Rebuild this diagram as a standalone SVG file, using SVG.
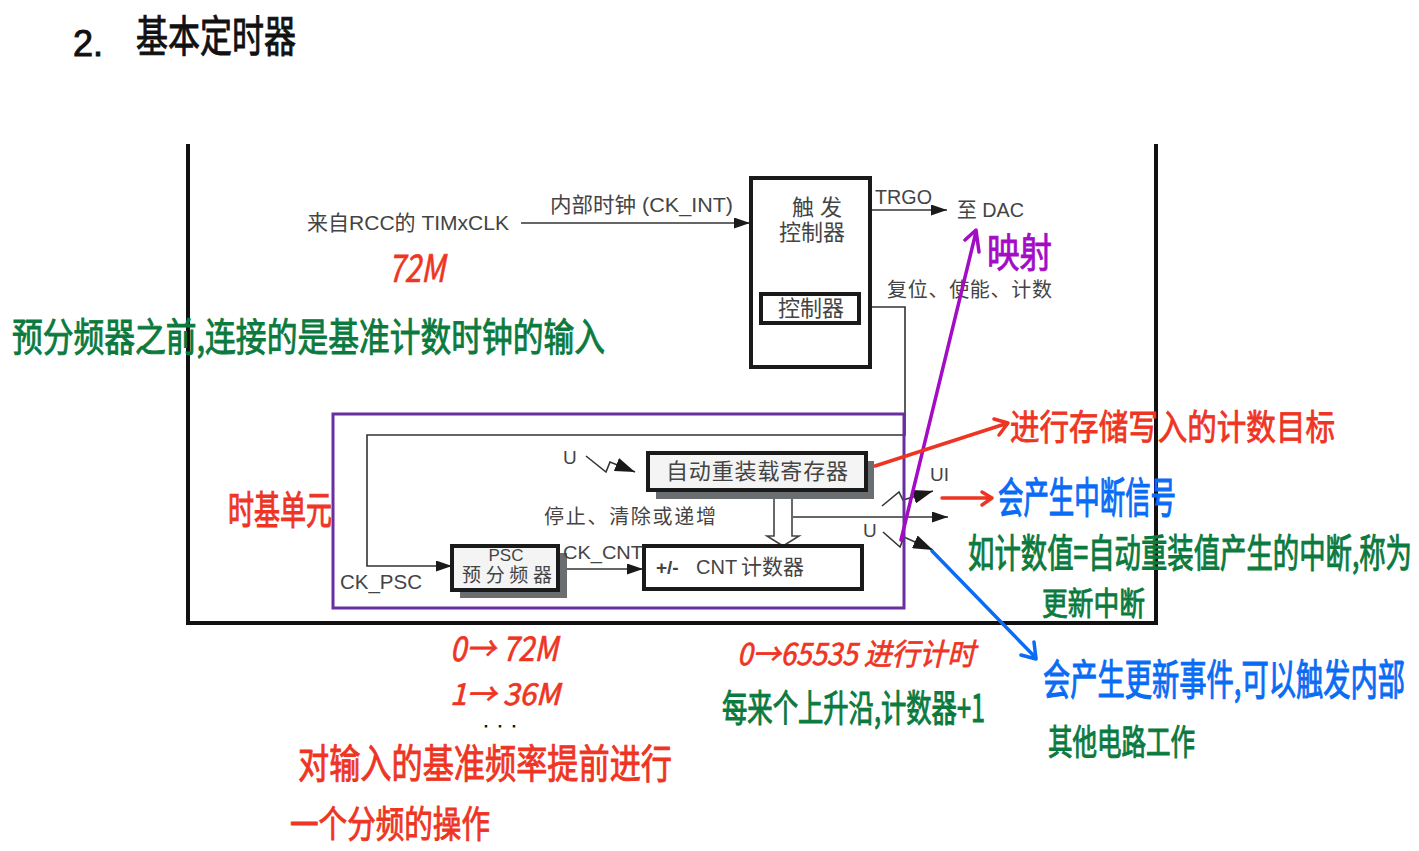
<svg xmlns="http://www.w3.org/2000/svg" width="1419" height="851" viewBox="0 0 1419 851">
<defs>
<marker id="ahb" viewBox="0 0 10 10" refX="10" refY="5" markerWidth="16" markerHeight="11" markerUnits="userSpaceOnUse" orient="auto" preserveAspectRatio="none"><path d="M0 0L10 5L0 10Z" fill="#1a1a1a"/></marker>
<marker id="ahz" viewBox="0 0 10 10" refX="10" refY="5" markerWidth="20" markerHeight="14" markerUnits="userSpaceOnUse" orient="auto" preserveAspectRatio="none"><path d="M0 0L10 5L0 10Z" fill="#1a1a1a"/></marker>
</defs>
<style>
text{font-family:"Liberation Sans","Noto Sans CJK SC",sans-serif}
.p{fill:#444;font-size:19px}
.c{fill:#444;font-size:19px;font-family:"Liberation Sans","Noto Sans CJK SC",sans-serif}
.h{font-family:"Noto Sans CJK SC",sans-serif;font-weight:400;stroke-width:.7;paint-order:stroke}
.r{fill:#ee3524;stroke:#ee3524}
.g{fill:#0b7a3e;stroke:#0b7a3e}
.b{fill:#0a6cf5;stroke:#0a6cf5}
.v{fill:#a30cc4;stroke:#a30cc4}
.k{fill:#111;stroke:#111}
.box{fill:#fff;stroke:#1a1a1a;stroke-width:4}
.boxg{fill:#f4f4f4;stroke:#1a1a1a;stroke-width:4}
.sh{fill:#6a6e70}
.l{fill:none;stroke:#333;stroke-width:1.6}
</style>
<rect width="1419" height="851" fill="#fff"/>
<g id="title"><text x="73" y="56" class="k" style="font-size:36px;font-family:'Liberation Sans'">2.</text><text transform="translate(136 52) scale(1 1.35)" class="h k" font-size="32" textLength="160" lengthAdjust="spacingAndGlyphs">基本定时器</text></g>
<g id="frame"><path d="M188 144V623H1156V144" fill="none" stroke="#111" stroke-width="4"/></g>
<g id="connectors">
<path class="l" d="M521 223H750" marker-end="url(#ahb)"/>
<path class="l" d="M871 210H947" marker-end="url(#ahb)"/>
<path class="l" d="M871 307H905V435H367V566H452" marker-end="url(#ahb)"/>
<path class="l" d="M558 569H643" marker-end="url(#ahb)"/>
<path class="l" d="M586 456L606 472L610 462L635 472" marker-end="url(#ahz)"/>
<path class="l" d="M793 517H948" marker-end="url(#ahb)"/>
<path class="l" d="M882 506L899 492L903 500L933 491" marker-end="url(#ahz)"/>
<path class="l" d="M883 532L900 547L904 537L933 550" marker-end="url(#ahz)"/>
<path d="M774 491V536H767L783 546L799 536H792V491" fill="#fff" stroke="#444" stroke-width="1.6"/>
</g>
<g id="trigger"><rect x="751" y="178" width="119" height="189" class="box"/><text x="817" y="215" class="c" text-anchor="middle" style="font-size:22px">触 发</text><text x="812" y="240" class="c" text-anchor="middle" style="font-size:22px">控制器</text></g>
<g id="controller"><rect x="761" y="294" width="98" height="29" class="box"/><text x="811" y="316" class="c" text-anchor="middle" style="font-size:22px">控制器</text></g>
<g id="arr"><rect x="656" y="461" width="218" height="38" class="sh"/><rect x="648" y="453" width="218" height="37" class="boxg"/><text x="757" y="479" class="c" text-anchor="middle" textLength="182" style="font-size:22px">自动重装载寄存器</text></g>
<g id="psc"><rect x="460" y="553" width="107" height="45" class="sh"/><rect x="452" y="546" width="106" height="44" class="boxg"/><text x="506" y="561" class="p" text-anchor="middle" style="font-size:17px">PSC</text><text x="507" y="582" class="c" text-anchor="middle" textLength="90" style="font-size:19px">预分频器</text></g>
<g id="cnt"><rect x="644" y="546" width="218" height="43" class="box"/><text x="656" y="574" class="p" font-weight="bold">+/-</text><text x="696" y="574" class="p" style="font-size:20px">CNT</text><text x="741" y="574" class="c" style="font-size:21px">计数器</text></g>
<g id="labels">
<text x="307" y="230" class="c" textLength="202" lengthAdjust="spacingAndGlyphs" style="font-size:21px">来自RCC的 TIMxCLK</text>
<text x="550" y="212" class="c" textLength="183" lengthAdjust="spacingAndGlyphs" style="font-size:21px">内部时钟 (CK_INT)</text>
<text x="875" y="204" class="p" textLength="57" lengthAdjust="spacingAndGlyphs" style="font-size:20px">TRGO</text>
<text x="957" y="217" class="c" textLength="67" lengthAdjust="spacingAndGlyphs" style="font-size:21px">至 DAC</text>
<text x="887" y="297" class="c" textLength="165" style="font-size:20px">复位、使能、计数</text>
<text x="563" y="464" class="p">U</text>
<text x="930" y="481" class="p">UI</text>
<text x="863" y="537" class="p">U</text>
<text x="544" y="524" class="c" textLength="172" style="font-size:20px">停止、清除或递增</text>
<text x="563" y="559" class="p" textLength="80" lengthAdjust="spacingAndGlyphs">CK_CNT</text>
<text x="340" y="589" class="p" textLength="82" lengthAdjust="spacingAndGlyphs" style="font-size:21px">CK_PSC</text>
</g>
<g id="timebase"><rect x="333" y="414" width="571" height="194" fill="none" stroke="#6a2f9e" stroke-width="3"/></g>
<g id="annotations" fill="none" stroke-linecap="round" stroke-linejoin="round" stroke-width="3.5">
<path d="M901 540L976 232M965 240L976 230L979 252" stroke="#a30cc4"/>
<path d="M875 466L1008 423M994 419L1008 423L999 435" stroke="#ee3524"/>
<path d="M942 498H991M982 492L992 498L982 505" stroke="#ee3524"/>
<path d="M932 551L1036 658M1034 642L1036 659L1021 655" stroke="#0a6cf5"/>
</g>
<g id="notes">
<text x="388" y="282" class="h r" font-size="38" font-style="italic" textLength="57" lengthAdjust="spacingAndGlyphs">72M</text>
<text transform="translate(987 267) scale(1 1.25)" class="h v" font-size="32" textLength="65" lengthAdjust="spacingAndGlyphs">映射</text>
<text transform="translate(12 351) scale(1 1.3)" class="h g" font-size="30" textLength="593" lengthAdjust="spacingAndGlyphs">预分频器之前,连接的是基准计数时钟的输入</text>
<text transform="translate(228 524) scale(1 1.5)" class="h r" font-size="26" textLength="104" lengthAdjust="spacingAndGlyphs">时基单元</text>
<text transform="translate(1010 440) scale(1 1.2)" class="h r" font-size="29.5" textLength="325" lengthAdjust="spacingAndGlyphs">进行存储写入的计数目标</text>
<text transform="translate(998 513) scale(1 1.7)" class="h b" font-size="25" textLength="178" lengthAdjust="spacingAndGlyphs">会产生中断信号</text>
<text transform="translate(968 567) scale(1 1.5)" class="h g" font-size="26" textLength="444" lengthAdjust="spacingAndGlyphs">如计数值=自动重装值产生的中断,称为</text>
<text transform="translate(1042 615) scale(1 1.25)" class="h g" font-size="25.5" textLength="103" lengthAdjust="spacingAndGlyphs">更新中断</text>
<text x="450" y="661" class="h r" font-size="34" font-style="italic" textLength="108" lengthAdjust="spacingAndGlyphs">0→ 72M</text>
<text x="450" y="705" class="h r" font-size="30" font-style="italic" textLength="110" lengthAdjust="spacingAndGlyphs">1→ 36M</text>
<text x="484" y="727" class="k" style="font-size:14px" textLength="32">...</text>
<text transform="translate(298 778) scale(1 1.3)" class="h r" font-size="31" textLength="374" lengthAdjust="spacingAndGlyphs">对输入的基准频率提前进行</text>
<text transform="translate(290 838) scale(1 1.3)" class="h r" font-size="28.5" textLength="200" lengthAdjust="spacingAndGlyphs">一个分频的操作</text>
<text transform="translate(737 665)" class="h r" font-size="30" font-style="italic" textLength="238" lengthAdjust="spacingAndGlyphs">0→65535 进行计时</text>
<text transform="translate(722 722) scale(1 1.5)" class="h g" font-size="25" textLength="263" lengthAdjust="spacingAndGlyphs">每来个上升沿,计数器+1</text>
<text transform="translate(1043 695) scale(1 1.55)" class="h b" font-size="27" textLength="362" lengthAdjust="spacingAndGlyphs">会产生更新事件,可以触发内部</text>
<text transform="translate(1048 755) scale(1 1.45)" class="h g" font-size="24.5" textLength="147" lengthAdjust="spacingAndGlyphs">其他电路工作</text>
</g>
</svg>
